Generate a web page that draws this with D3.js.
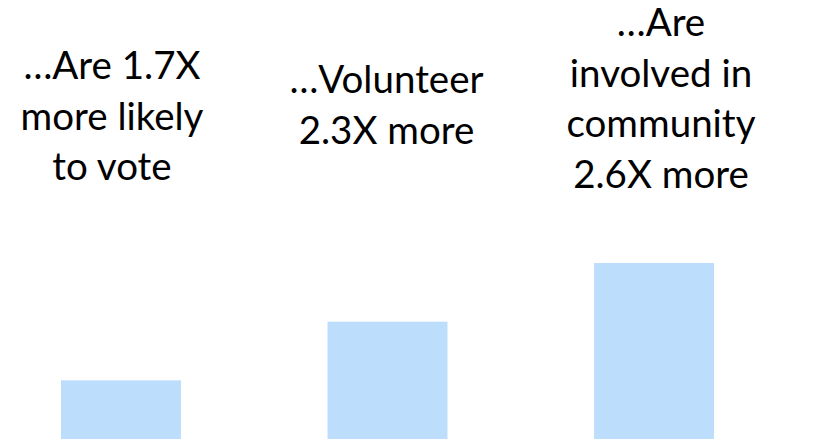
<!DOCTYPE html>
<html>
<head>
<meta charset="utf-8">
<script src="https://cdn.jsdelivr.net/npm/d3@7"></script>
<style>
  html, body { margin: 0; padding: 0; background: #fff; }
  svg { display: block; }
</style>
</head>
<body>
<script>
// Categories and the statements shown above each bar
const categories = ["vote", "volunteer", "community"];
const labelLines = [
  ["…Are 1.7X", "more likely", "to vote"],
  ["…Volunteer", "2.3X more"],
  ["…Are", "involved in", "community", "2.6X more"]
];
// Bar heights as stepped levels
const barLevels = [1, 2, 3];

// Layout
const W = 819, H = 439;
const lineHeight = 50.5;
const firstBaseline = [79, 93, 36];

const svg = d3.select("body").append("svg")
  .attr("width", W).attr("height", H);

const x = d3.scaleBand()
  .domain(categories)
  .range([61, 714])
  .paddingInner(0.55)
  .paddingOuter(0);

const xLabel = d3.scalePoint()
  .domain(categories)
  .range([112, 661]);

const y = d3.scaleLinear()
  .domain([0, 3])
  .range([H, 263]);

svg.append("g")
  .selectAll("rect")
  .data(categories)
  .join("rect")
  .attr("x", d => x(d))
  .attr("width", x.bandwidth())
  .attr("y", (d, i) => y(barLevels[i]))
  .attr("height", (d, i) => y(0) - y(barLevels[i]))
  .attr("fill", "#BDDDFC");

const labels = svg.append("g")
  .attr("font-family", "Lato, 'Open Sans', sans-serif")
  .attr("font-size", 38.5)
  .attr("fill", "#000")
  .attr("text-anchor", "middle")
  .selectAll("text")
  .data(categories)
  .join("text")
  .attr("x", d => xLabel(d))
  .attr("y", (d, i) => firstBaseline[i]);

labels.selectAll("tspan")
  .data((d, i) => labelLines[i].map(t => ({ t, cx: xLabel(d) })))
  .join("tspan")
  .attr("x", d => d.cx)
  .attr("dy", (d, j) => j === 0 ? 0 : lineHeight)
  .text(d => d.t);
</script>
</body>
</html>
